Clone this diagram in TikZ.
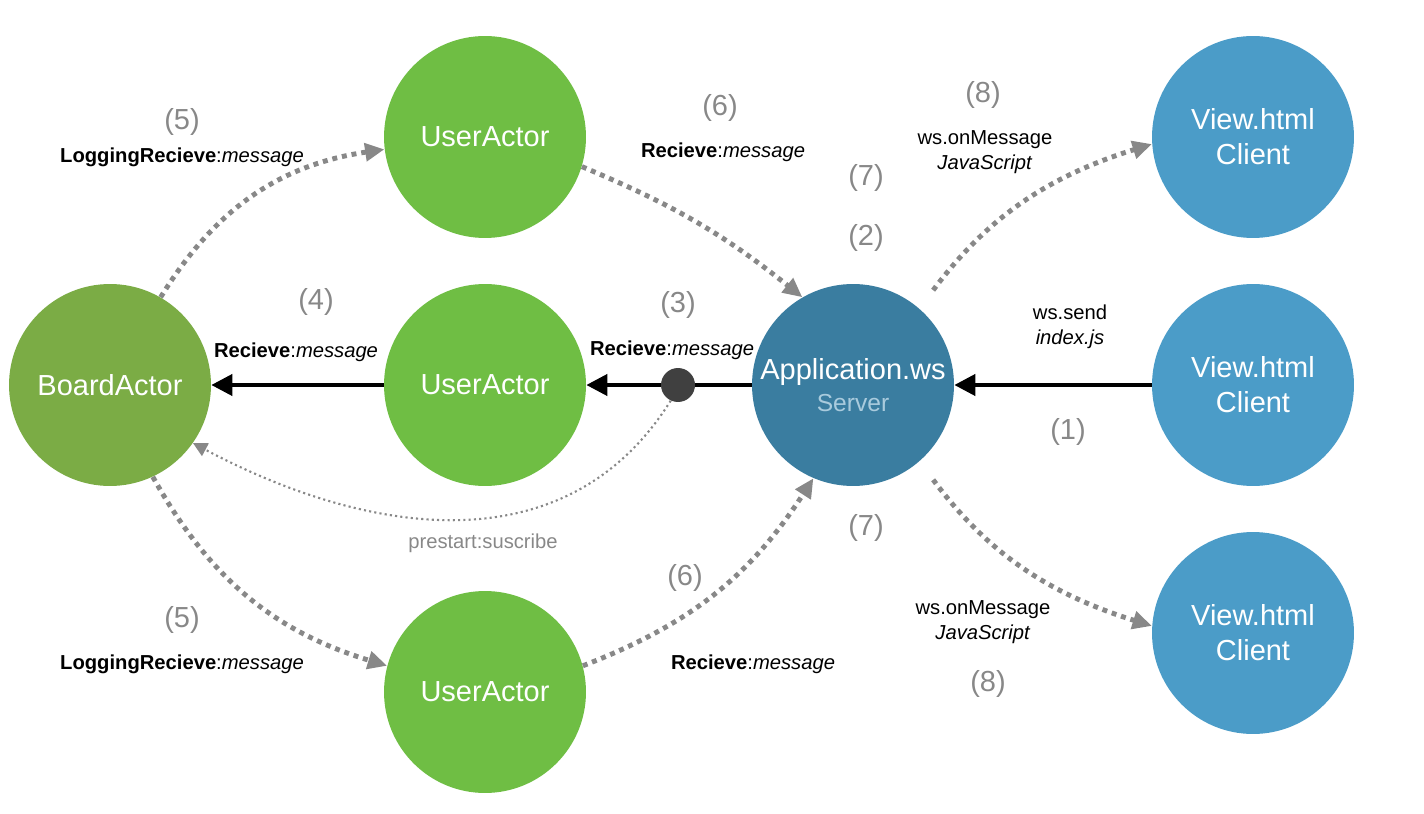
\documentclass[tikz,border=0pt]{standalone}
\usepackage{fontspec}
\setmainfont{Liberation Sans}
\usetikzlibrary{arrows.meta}

\definecolor{boardgreen}{HTML}{7BAC45}
\definecolor{usergreen}{HTML}{6FBE44}
\definecolor{serverblue}{HTML}{3A7DA0}
\definecolor{clientblue}{HTML}{4B9CC8}
\definecolor{serverlight}{HTML}{A9CBDD}
\definecolor{arrowgrey}{HTML}{888888}
\definecolor{dotgrey}{HTML}{404040}

\begin{document}
\begin{tikzpicture}[x=0.02cm,y=0.02cm]
  \useasboundingbox (0,0) rectangle (1424,-814);
  % def actors
  \coordinate (B) at (110,-385);
  \coordinate (U1) at (485,-137);
  \coordinate (U2) at (485,-385);
  \coordinate (U3) at (485,-692);
  % def server and clients
  \coordinate (S) at (853,-385);
  \coordinate (C1) at (1253,-137);
  \coordinate (C2) at (1253,-385);
  \coordinate (C3) at (1253,-633);

  %stili
  \tikzset{actor/.style={circle, minimum size=4.04cm, inner sep=0pt, text=white, align=center, font=\fontsize{16.5}{20}\selectfont},
    msg/.style={-{Triangle[length=12pt,width=12pt]}, black, line width=2.3pt},
    dots/.style={-{Triangle[length=11pt,width=10pt]}, arrowgrey, line width=2.8pt, dash pattern=on 2.8pt off 2.8pt},
    subarc/.style={-{Triangle[length=8pt,width=8pt]}, arrowgrey, line width=1.2pt, dash pattern=on 1.2pt off 1.8pt},
    num/.style={text=arrowgrey, font=\fontsize{16.5}{20}\selectfont},
    lbl/.style={align=center, font=\fontsize{11.5}{14}\selectfont}}

  % cerchi
  \node[actor, fill=boardgreen] (ba) at (B) {BoardActor};
  \node[actor, fill=usergreen] (ua1) at (U1) {UserActor};
  \node[actor, fill=usergreen] (ua2) at (U2) {UserActor};
  \node[actor, fill=usergreen] (ua3) at (U3) {UserActor};
  \node[actor, fill=serverblue, font=\fontsize{16.5}{18}\selectfont] (srv) at (S)
    {Application.ws\\{\fontsize{14}{16}\selectfont\color{serverlight}Server}};
  \node[actor, fill=clientblue] (cl1) at (C1) {View.html\\Client};
  \node[actor, fill=clientblue] (cl2) at (C2) {View.html\\Client};
  \node[actor, fill=clientblue] (cl3) at (C3) {View.html\\Client};

  %frecce
  \draw[msg] (cl2) -- (srv);
  \draw[black, line width=2.3pt] (srv) -- (678,-385) coordinate (tap);
  \draw[msg] (tap) -- (ua2);
  \draw[msg] (ua2) -- (ba);
  \node[circle, fill=dotgrey, minimum size=0.68cm, inner sep=0pt] (sub) at (tap) {};

  \draw[dots] (ba.60) to[bend left=25] (ua1.187);
  \draw[dots] (ba.-65) to[bend right=22] (ua3.165);
  \draw[dots] (ua1.-17) to[bend left=8] (srv.120);
  \draw[dots] (ua3.15) to[bend right=18] (srv.-113);
  \draw[dots, shorten <=13pt] (srv.49) to[bend left=18] (cl1.184);
  \draw[dots, shorten <=13pt] (srv.-49) to[bend right=18] (cl3.176);
  \draw[subarc] (sub.245) to[out=238, in=-28, looseness=1.05] (ba.-35);

  %etichette
  \node[num] (n5a) at (182,-122) {(5)};
  \node[lbl] (l5a) at (182,-157) {\textbf{LoggingRecieve}:\textit{message}};
  \node[num] (n6a) at (720,-108) {(6)};
  \node[lbl] (l6a) at (723,-152) {\textbf{Recieve}:\textit{message}};
  \node[num] (n8a) at (983,-95) {(8)};
  \node[lbl] (l8a) at (985,-152) {ws.onMessage\\\textit{JavaScript}};
  \node[num] (n7a) at (866,-178) {(7)};
  \node[num] (n2) at (866,-238) {(2)};
  \node[num] (n4) at (316,-302) {(4)};
  \node[lbl] (l4) at (296,-352) {\textbf{Recieve}:\textit{message}};
  \node[num] (n3) at (678,-305) {(3)};
  \node[lbl] (l3) at (672,-350) {\textbf{Recieve}:\textit{message}};
  \node[lbl] (l1) at (1070,-327) {ws.send\\\textit{index.js}};
  \node[num] (n1) at (1068,-432) {(1)};
  \node[num] (n7b) at (866,-528) {(7)};
  \node[lbl, text=arrowgrey] (lsub) at (483,-543) {prestart:suscribe};
  \node[num] (n6b) at (685,-578) {(6)};
  \node[lbl] (l6b) at (753,-664) {\textbf{Recieve}:\textit{message}};
  \node[lbl] (l8b) at (983,-622) {ws.onMessage\\\textit{JavaScript}};
  \node[num] (n8b) at (988,-684) {(8)};
  \node[num] (n5b) at (182,-620) {(5)};
  \node[lbl] (l5b) at (182,-664) {\textbf{LoggingRecieve}:\textit{message}};

\end{tikzpicture}
\end{document}
